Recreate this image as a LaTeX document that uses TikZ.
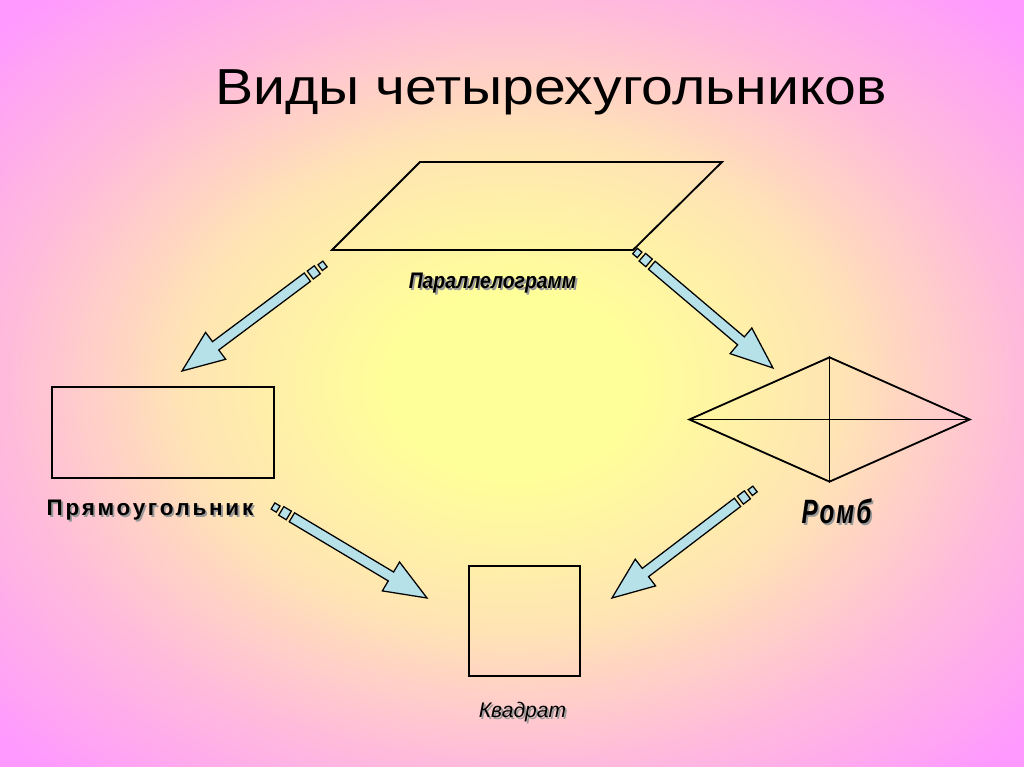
\documentclass[tikz,border=0pt]{standalone}
\usepackage{fontspec}
\setmainfont{Liberation Sans}
\usepackage{tikz}
\usetikzlibrary{shapes.geometric, calc}

\definecolor{pinkbg}{HTML}{FF99FF}
\definecolor{yellowbg}{HTML}{FFFF99}
\definecolor{peachbg}{HTML}{FFE4B4}
\definecolor{rosebg}{HTML}{FFBADC}
\definecolor{arrowblue}{HTML}{B7E1E8}

\pgfdeclareradialshading{quadbg}{\pgfpoint{0bp}{0bp}}{%
  color(0bp)=(yellowbg); color(6bp)=(yellowbg); color(16bp)=(peachbg);
  color(25bp)=(rosebg); color(34bp)=(pinkbg); color(75bp)=(pinkbg)}

\newcommand{\shadowed}[1]{\makebox[0pt][l]{\kern1.3pt\raisebox{-1.6pt}{\color{black!40}#1}}#1}

\begin{document}
\begin{tikzpicture}[
    x=0.025cm, y=-0.025cm,
    figure/.style={draw, line width=1.3pt, inner sep=0pt},
    boxshape/.style={figure, rectangle},
    rhombshape/.style={figure, diamond},
    arrowbody/.style={fill=arrowblue, draw=black, line width=0.9pt, line join=miter},
    caption/.style={inner sep=0pt, text=black, anchor=base}
]

% background
\shade[shading=quadbg] (0,0) rectangle (1024,767);

\node[caption, font=\fontsize{36}{40}\selectfont\addfontfeatures{FakeStretch=1.13}] (title) at (551,105) {Виды четырехугольников};

% figures
\draw[line width=1.3pt, line join=miter] (332,250) -- (420,162) -- (722,162) -- (633,250) -- cycle;
\node[boxshape, minimum width=5.55cm, minimum height=2.275cm] (rect) at (163,432.5) {};
\node[rhombshape, minimum width=7.025cm, minimum height=3.125cm] (rhomb) at (829.5,419.5) {};
\node[boxshape, minimum width=2.775cm, minimum height=2.75cm] (square) at (524.5,621) {};
\draw[line width=1.3pt] (rhomb.west) -- (rhomb.east);
\draw[line width=1.3pt] (rhomb.north) -- (rhomb.south);

% captions
\node[caption, font=\fontsize{16}{19}\selectfont\bfseries\itshape\addfontfeatures{FakeStretch=0.86}] (paralabel) at (492.5,288) {\shadowed{Параллелограмм}};
\node[caption, font=\fontsize{16}{19}\selectfont\bfseries\addfontfeatures{LetterSpace=12}] (rectlabel) at (150,515) {\shadowed{Прямоугольник}};
\node[caption, font=\fontsize{24}{28}\selectfont\bfseries\itshape\addfontfeatures{FakeStretch=0.72,LetterSpace=6}] (rhomblabel) at (836.5,523) {\shadowed{Ромб}};
\node[caption, font=\fontsize{15}{18}\selectfont\itshape] (squarelabel) at (522.5,717) {\shadowed{Квадрат}};

% arrow ends
\coordinate (paraL) at (325,264);
\coordinate (rectTop) at (182,371);
\coordinate (paraR) at (635,251);
\coordinate (rhombTop) at (773,368);
\coordinate (rectR) at (273,506);
\coordinate (squareL) at (427,598);
\coordinate (rhombL) at (755,489);
\coordinate (squareR) at (612,598);

\foreach \t/\h in {paraL/rectTop, paraR/rhombTop, rectR/squareL, rhombL/squareR}{
  \filldraw[arrowbody] ($(\t)!0cm!(\h)!0.09cm!90:(\h)$) -- ($(\t)!0.15cm!(\h)!0.09cm!90:(\h)$)
    -- ($(\t)!0.15cm!(\h)!0.09cm!-90:(\h)$) -- ($(\t)!0cm!(\h)!0.09cm!-90:(\h)$) -- cycle;
  \filldraw[arrowbody] ($(\t)!0.24cm!(\h)!0.125cm!90:(\h)$) -- ($(\t)!0.46cm!(\h)!0.125cm!90:(\h)$)
    -- ($(\t)!0.46cm!(\h)!0.125cm!-90:(\h)$) -- ($(\t)!0.24cm!(\h)!0.125cm!-90:(\h)$) -- cycle;
  \filldraw[arrowbody] ($(\t)!0.55cm!(\h)!0.13cm!90:(\h)$) -- ($(\h)!1.05cm!(\t)!0.13cm!90:(\h)$)
    -- ($(\h)!1.05cm!(\t)!0.42cm!90:(\h)$) -- (\h) -- ($(\h)!1.05cm!(\t)!0.42cm!-90:(\h)$)
    -- ($(\h)!1.05cm!(\t)!0.13cm!-90:(\h)$) -- ($(\t)!0.55cm!(\h)!0.13cm!-90:(\h)$) -- cycle;
}

\end{tikzpicture}
\end{document}
